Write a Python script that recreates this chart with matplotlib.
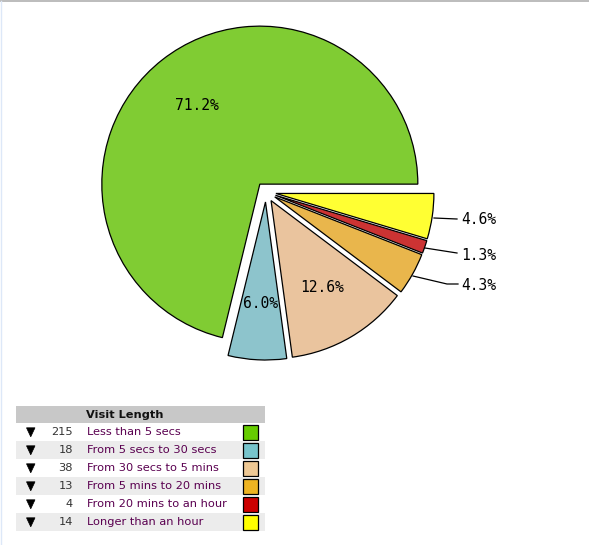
import matplotlib
matplotlib.use("Agg")
import matplotlib.pyplot as plt
from matplotlib.patches import Rectangle, Polygon

W, H = 589, 545

categories = ["Less than 5 secs", "From 5 secs to 30 secs", "From 30 secs to 5 mins",
              "From 5 mins to 20 mins", "From 20 mins to an hour", "Longer than an hour"]
counts = [215, 18, 38, 13, 4, 14]
pct_labels = ["71.2%", "6.0%", "12.6%", "4.3%", "1.3%", "4.6%"]
pie_colors = ["#80cc33", "#8dc4cc", "#eac49e", "#e9b64c", "#cc3333", "#ffff33"]
legend_colors = ["#66cc00", "#77c4cc", "#eec894", "#eeb422", "#cc0000", "#ffff00"]
title = "Visit Length"

fig = plt.figure(figsize=(W / 100, H / 100), dpi=100)
ax = fig.add_axes([0, 0, 1, 1])

def Y(py):
    return H - py

cx, cy, r = 266, 192, 158
wedges, _ = ax.pie(counts, colors=pie_colors, startangle=0, counterclock=True,
                   center=(cx, Y(cy)), radius=r, explode=[10] * len(counts),
                   wedgeprops=dict(edgecolor="black", linewidth=0.9))

ax.set_xlim(0, W)
ax.set_ylim(0, H)
ax.set_aspect("auto")
ax.axis("off")

mono = "DejaVu Sans Mono"
# inner labels
inner = {0: (197, 106), 1: (261, 303), 2: (322, 288)}
for i, (x, y) in inner.items():
    ax.text(x, Y(y), pct_labels[i], ha="center", va="center", fontsize=10.5,
            family=mono, color="black")

# outer labels with leader lines
outer = {5: ([(434, 218), (457, 219)], 220),
         4: ([(425, 248), (457, 253)], 255),
         3: ([(413, 276), (447, 284), (458, 284)], 286)}
for i, (pts, ty) in outer.items():
    ax.plot([p[0] for p in pts], [Y(p[1]) for p in pts], color="black", lw=0.9)
    ax.text(461, Y(ty), pct_labels[i], ha="left", va="center", fontsize=10.5,
            family=mono, color="black")

# table
x0, x1 = 16, 265
ax.add_patch(Rectangle((x0, Y(423.3)), x1 - x0, 423.3 - 405.7, facecolor="#c8c8c8",
                       edgecolor="none"))
ax.text(125, Y(414.5), title, ha="center", va="center", fontsize=8.2, fontweight="bold",
        family="DejaVu Sans", color="#111111")
row_h = 18
for i, (cat, n) in enumerate(zip(categories, counts)):
    top = 423.3 + i * row_h
    mid = top + row_h / 2
    if i % 2 == 1:
        ax.add_patch(Rectangle((x0, Y(top + row_h)), x1 - x0, row_h,
                               facecolor="#ececec", edgecolor="none"))
    tri = Polygon([(26.5, Y(mid - 4.5)), (35, Y(mid - 4.5)), (30.75, Y(mid + 4.5))],
                  closed=True, facecolor="black", edgecolor="black", lw=0.5)
    ax.add_patch(tri)
    ax.text(73, Y(mid), str(n), ha="right", va="center", fontsize=8.2,
            family="DejaVu Sans", color="#333333")
    ax.text(87, Y(mid), cat, ha="left", va="center", fontsize=8.2,
            family="DejaVu Sans", color="#5a0050")
    ax.add_patch(Rectangle((242.5, Y(mid + 7.5)), 15, 15, facecolor=legend_colors[i],
                           edgecolor="black", lw=0.9))

# page borders
ax.plot([0, W], [Y(0.8), Y(0.8)], color="#b0b0b0", lw=1.2)
ax.plot([0.5, 0.5], [Y(1), Y(H)], color="#dde8f8", lw=1)

fig.savefig("out.png", dpi=100, facecolor="white")
